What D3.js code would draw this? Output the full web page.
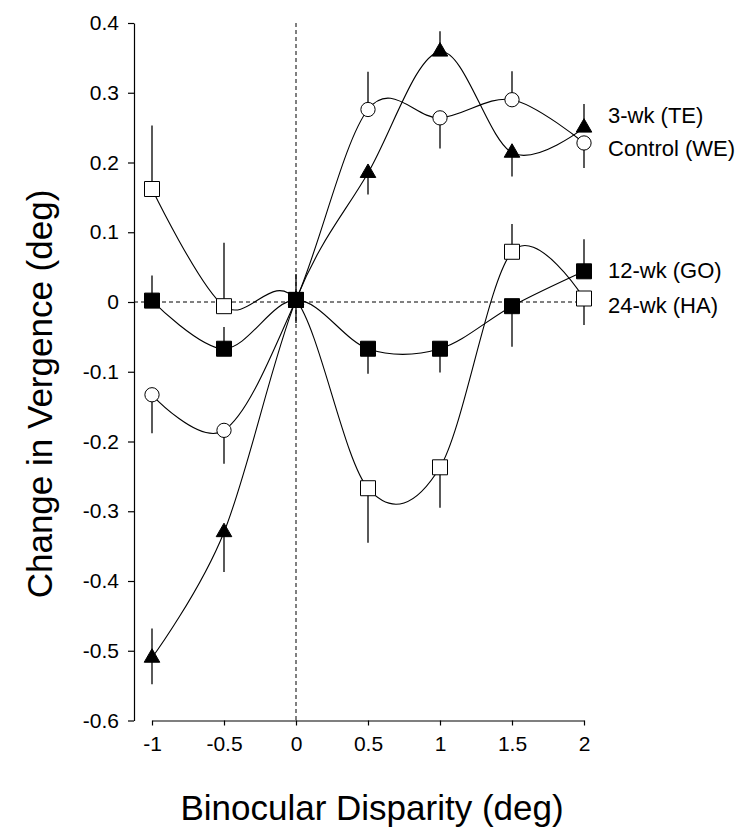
<!DOCTYPE html>
<html>
<head>
<meta charset="utf-8">
<script src="https://cdn.jsdelivr.net/npm/d3@7"></script>
<style>
  html, body { margin: 0; padding: 0; background: #fff; }
  svg { display: block; font-family: "Liberation Sans", Arial, Helvetica, sans-serif; }
</style>
</head>
<body>
<div id="chart"></div>
<script>
'use strict';

// binocular disparity (deg)
const disparities = [-1, -0.5, 0, 0.5, 1, 1.5, 2];

const xTicks = [-1, -0.5, 0, 0.5, 1, 1.5, 2];
const yTicks = [-0.6, -0.5, -0.4, -0.3, -0.2, -0.1, 0, 0.1, 0.2, 0.3, 0.4];

const seriesNames = ['Control (WE)', '3-wk (TE)', '24-wk (HA)', '12-wk (GO)'];

// change in vergence (deg), one array per group
const controlWE = [-0.133, -0.184, 0.003, 0.276, 0.264, 0.290, 0.228];
const wk3TE     = [-0.510, -0.330, 0.003, 0.185, 0.359, 0.214, 0.250];
const wk24HA    = [0.162, -0.006, 0.003, -0.267, -0.237, 0.072, 0.005];
const wk12GO    = [0.002, -0.067, 0.003, -0.067, -0.067, -0.006, 0.044];

// one-sided error bars (0 = none drawn)
const controlUp   = [0, 0, 0, 0.054, 0, 0.041, 0];
const controlDown = [0.055, 0.048, 0, 0, 0.044, 0, 0.036];
const wk3Up       = [0.042, 0, 0.037, 0, 0.029, 0, 0.034];
const wk3Down     = [0.038, 0.057, 0, 0.031, 0, 0.034, 0];
const wk24Up      = [0.091, 0.091, 0, 0, 0, 0.040, 0];
const wk24Down    = [0, 0, 0.033, 0.078, 0.058, 0, 0.038];
const wk12Up      = [0.036, 0.031, 0, 0, 0, 0, 0.046];
const wk12Down    = [0, 0, 0, 0.036, 0.034, 0.058, 0];

const config = {
  width: 748,
  height: 836,
  xRange: [152, 584],
  yRange: [720.5, 23],
  yAxisX: 134,
  font: 21,
  titleFont: 35,
  labelFont: 22
};

// where the end labels sit (value units on the y scale)
const labelAt = {
  'Control (WE)': 0.221,
  '3-wk (TE)': 0.267,
  '24-wk (HA)': -0.005,
  '12-wk (GO)': 0.045
};

const styles = {
  'Control (WE)': { symbol: d3.symbolCircle, size: 160, fill: '#fff' },
  '3-wk (TE)':    { symbol: d3.symbolTriangle, size: 105, fill: '#000' },
  '24-wk (HA)':   { symbol: d3.symbolSquare, size: 225, fill: '#fff' },
  '12-wk (GO)':   { symbol: d3.symbolSquare, size: 225, fill: '#000' }
};

const build = (name, values, up, down) => ({
  name: name,
  points: disparities.map((x, i) => ({ x: x, y: values[i], up: up[i], down: down[i] }))
});

const series = [
  build(seriesNames[0], controlWE, controlUp, controlDown),
  build(seriesNames[1], wk3TE, wk3Up, wk3Down),
  build(seriesNames[2], wk24HA, wk24Up, wk24Down),
  build(seriesNames[3], wk12GO, wk12Up, wk12Down)
];

const x = d3.scaleLinear().domain([-1, 2]).range(config.xRange);
const y = d3.scaleLinear().domain([-0.6, 0.4]).range(config.yRange);

const svg = d3.select('#chart').append('svg')
  .attr('width', config.width)
  .attr('height', config.height);

// reference lines through zero
svg.append('line')
  .attr('x1', config.yAxisX).attr('x2', x(2))
  .attr('y1', y(0)).attr('y2', y(0))
  .attr('stroke', '#000').attr('stroke-width', 1)
  .attr('stroke-dasharray', '4,3');
svg.append('line')
  .attr('x1', x(0)).attr('x2', x(0))
  .attr('y1', y(0.4)).attr('y2', y(-0.6))
  .attr('stroke', '#000').attr('stroke-width', 1)
  .attr('stroke-dasharray', '4,3');

// axes
const fmt = (d) => d === 0 ? '0' : String(+d.toFixed(1)).replace('\u2212', '-');

const yAxis = svg.append('g')
  .attr('transform', `translate(${config.yAxisX},0)`)
  .call(d3.axisLeft(y).tickValues(yTicks).tickSize(6).tickSizeOuter(0).tickPadding(9).tickFormat(fmt));

const xAxis = svg.append('g')
  .attr('transform', `translate(0,${config.yRange[0]})`)
  .call(d3.axisBottom(x).tickValues(xTicks).tickSize(5).tickSizeOuter(0).tickPadding(11).tickFormat(fmt));

[yAxis, xAxis].forEach((a) => {
  a.selectAll('text')
    .attr('font-size', config.font)
    .attr('font-family', null)
    .attr('fill', '#000');
  a.selectAll('line, path').attr('stroke', '#000').attr('stroke-width', 1.2);
});

// curves (uniform Catmull-Rom through the means)
const line = d3.line()
  .x((d) => x(d.x))
  .y((d) => y(d.y))
  .curve(d3.curveCardinal.tension(0));

svg.append('g').selectAll('path')
  .data(series)
  .enter().append('path')
  .attr('d', (s) => line(s.points))
  .attr('fill', 'none')
  .attr('stroke', '#000')
  .attr('stroke-width', 1.1);

// error bars and markers, series by series
series.forEach((s) => {
  const st = styles[s.name];
  const g = svg.append('g').attr('class', 'series');

  g.selectAll('.err-up')
    .data(s.points.filter((p) => p.up > 0))
    .enter().append('line')
    .attr('x1', (p) => x(p.x)).attr('x2', (p) => x(p.x))
    .attr('y1', (p) => y(p.y)).attr('y2', (p) => y(p.y + p.up))
    .attr('stroke', '#000').attr('stroke-width', 1.3);

  g.selectAll('.err-down')
    .data(s.points.filter((p) => p.down > 0))
    .enter().append('line')
    .attr('x1', (p) => x(p.x)).attr('x2', (p) => x(p.x))
    .attr('y1', (p) => y(p.y)).attr('y2', (p) => y(p.y - p.down))
    .attr('stroke', '#000').attr('stroke-width', 1.3);

  g.selectAll('.marker')
    .data(s.points)
    .enter().append('path')
    .attr('transform', (p) => `translate(${x(p.x)},${y(p.y)})`)
    .attr('d', d3.symbol().type(st.symbol).size(st.size))
    .attr('fill', st.fill)
    .attr('stroke', '#000')
    .attr('stroke-width', 1);
});

// end labels
svg.append('g').selectAll('text')
  .data(seriesNames)
  .enter().append('text')
  .attr('x', x(2) + 24)
  .attr('y', (n) => y(labelAt[n]))
  .attr('dy', '0.35em')
  .attr('font-size', config.labelFont)
  .attr('fill', '#000')
  .text((n) => n);

// axis titles
svg.append('text')
  .attr('x', 372)
  .attr('y', 820)
  .attr('text-anchor', 'middle')
  .attr('font-size', config.titleFont)
  .attr('fill', '#000')
  .text('Binocular Disparity (deg)');

svg.append('text')
  .attr('transform', 'translate(52,394) rotate(-90)')
  .attr('text-anchor', 'middle')
  .attr('font-size', config.titleFont)
  .attr('fill', '#000')
  .text('Change in Vergence (deg)');
</script>
</body>
</html>
